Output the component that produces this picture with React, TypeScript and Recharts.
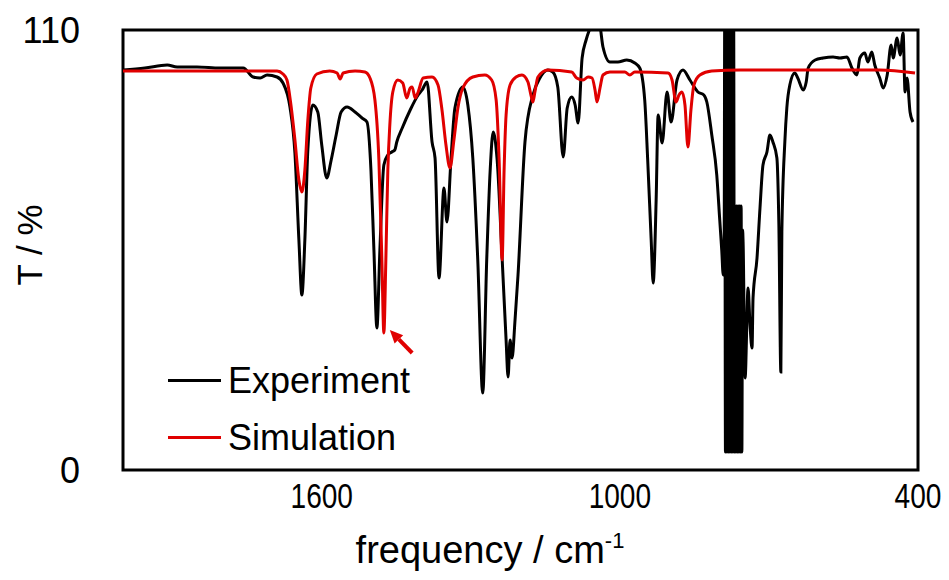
import React from "react";
import {
  LineChart,
  Line,
  XAxis,
  YAxis,
  ReferenceArea,
  ReferenceLine,
} from "recharts";

// Experiment (black) — frequency / cm-1 and transmittance %
const expFreq = [
  2000, 1956, 1911, 1891, 1851, 1805, 1758, 1738, 1724, 1710, 1690, 1678, 1664, 1654, 1646, 1640,
  1634, 1628, 1618, 1608, 1600, 1590, 1581, 1571, 1561, 1549, 1533, 1519, 1509, 1501, 1495, 1489,
  1483, 1475, 1467, 1459, 1453, 1449, 1438, 1422, 1406, 1398, 1388, 1378, 1372, 1364, 1354, 1348,
  1340, 1332, 1316, 1306, 1296, 1286, 1276, 1268, 1261, 1255, 1247, 1237, 1229, 1225, 1221, 1217,
  1211, 1205, 1191, 1175, 1161, 1145, 1135, 1125, 1114, 1106, 1097, 1090, 1084, 1076, 1068, 1060,
  1050, 1040, 1034, 1020, 1004, 986, 970, 960, 950, 944, 937, 933, 927, 923, 915, 905, 897, 885,
  873, 859, 843, 831, 825, 815, 805, 799, 795, 792,
  // saturated region
  790, 789, 787.5, 786, 784.5, 783, 781.5, 780, 778.5, 777, 775.5, 774, 772.5, 771, 769.5, 768,
  766.5, 765, 763.5, 762, 760.5, 759, 757.5, 756, 754.5, 753,
  752, 748, 742, 738, 734, 732, 724, 718, 712, 704, 698, 692, 684, 680, 676, 674, 668, 664, 658,
  648, 642, 631, 625, 621, 607, 591, 571, 557, 543, 533, 523, 517, 507, 501, 493, 487, 477, 470,
  462, 454, 450, 442, 436, 430, 426, 422, 416, 410,
];
const expT = [
  100, 100.5, 101.25, 100.75, 100.75, 100.5, 100.5, 98.25, 98, 98.75, 98.25, 96.75, 90.75, 79.25, 57.5, 43.75,
  57.5, 80, 91.25, 89.5, 81.25, 73, 77.5, 83.75, 89.5, 90.75, 89.5, 88, 87, 75, 55, 35.5,
  55, 76.25, 78.75, 79.5, 80, 82, 85.5, 90, 93.75, 95, 97, 82, 78, 48, 70.5, 62,
  77.5, 90.5, 95.75, 91.25, 78, 52.5, 19.25, 52.5, 75, 84.5, 77.5, 53, 32.5, 23.25, 32.5, 28,
  37.5, 48.75, 82, 93.75, 98, 100, 99.5, 95.75, 78.25, 90.5, 93.25, 91.25, 86.75, 103, 107.5, 110.5,
  113.75, 111, 105.75, 102, 102, 102.5, 101.75, 100.5, 92.5, 77.5, 57.5, 46.75, 67.5, 88.75, 81.75, 94.5, 87, 97.5,
  100, 97.5, 94.5, 93.75, 92, 83.75, 73.75, 62.5, 55, 48.75,
  60, 114, 4.5, 114, 4.5, 114, 4.5, 114, 4.5, 114, 4.5, 114, 4.5, 114, 4.5, 66,
  4.5, 66, 4.5, 66, 4.5, 66, 4.5, 66, 4.5, 60,
  57, 23, 45.5, 36, 30.5, 43, 53, 65.5, 76.25, 79.5, 83.75, 82, 78, 61.25, 24.5, 59.5, 82, 90.5, 96.25,
  99.25, 98, 95, 97, 100.5, 102.5, 103, 103.25, 103, 103.25, 100.5, 98.75, 103, 104.25, 102, 104.5, 101.25, 98, 95.5,
  98.75, 106.25, 103, 108, 103.75, 109.25, 94.5, 98, 89.5, 87,
];

// Simulation (red)
const simFreq = [
  2000, 1690, 1678, 1670, 1662, 1654, 1646, 1640, 1634, 1628, 1622, 1610, 1584, 1569, 1563, 1557,
  1533, 1513, 1503, 1493, 1485, 1479, 1475, 1471, 1467, 1463, 1457, 1447, 1437, 1429, 1422, 1418,
  1412, 1406, 1396, 1378, 1366, 1358, 1350, 1342, 1334, 1326, 1316, 1296, 1272, 1258, 1249, 1243,
  1237, 1233, 1229, 1221, 1209, 1197, 1185, 1179, 1175, 1171, 1165, 1145, 1097, 1087, 1074, 1064,
  1056, 1050, 1046, 1040, 1034, 1020, 990, 980, 970, 903, 895, 887, 881, 875, 869, 863, 857, 851,
  839, 815, 758, 638, 477, 406,
];
const simT = [
  99.75, 99.75, 99, 97.5, 91.25, 82.5, 72.5, 69.5, 75, 87.5, 95.5, 99, 99.75, 99.25, 97.75, 99.25,
  99.75, 99.5, 98, 92.5, 77.5, 52.5, 34.25, 52.5, 75, 86.25, 94.5, 97.5, 96.75, 93, 95.5, 95.75,
  93, 94.5, 98, 98.25, 96.25, 90, 81.25, 75.5, 82.5, 90.5, 95.5, 98.25, 98.75, 97.5, 92.5, 77.5,
  52.5, 75, 88.75, 96.25, 98.25, 98.75, 97, 93.75, 92, 94.5, 98.25, 100, 99.5, 98, 97.5, 98.25,
  98, 95, 92, 95.5, 98.75, 99.5, 99.5, 98.75, 99.5, 99.25, 97.5, 92, 93.75, 94.5, 91.25, 80.75, 90, 96.25,
  98.75, 99.75, 100, 100, 100, 99.25,
];

const xTicks = [1600, 1000, 400];
const yTicks = [0, 110];
const seriesNames = ["Experiment", "Simulation"];
const seriesColors = ["#000000", "#e00000"];

// annotation arrow pointing at the simulated band (tail -> tip)
const arrowTail = { f: 1418, t: 29.25 };
const arrowTip = { f: 1463, t: 35 };

const expData = expFreq.map((f, i) => ({ f, t: expT[i] }));
const simData = simFreq.map((f, i) => ({ f, t: simT[i] }));

const FONT = "'Liberation Sans', Arial, sans-serif";

// x tick labels in the original are set in a condensed face
function XTick({ x, y, payload }: any) {
  return (
    <text
      x={x}
      y={y + 30}
      textAnchor="middle"
      fontSize={36}
      fontFamily={FONT}
      fill="#000"
      transform={`translate(${x} 0) scale(0.78 1) translate(${-x} 0)`}
    >
      {payload.value}
    </text>
  );
}

function YTick({ y, payload }: any) {
  return (
    <text x={80} y={y + 13} textAnchor="end" fontSize={36} fontFamily={FONT} fill="#000">
      {payload.value}
    </text>
  );
}

function Arrow(props: any) {
  const { x1, y1, x2, y2 } = props;
  const ang = Math.atan2(y2 - y1, x2 - x1);
  const len = 13;
  const w = 6;
  const bx = x2 - len * Math.cos(ang);
  const by = y2 - len * Math.sin(ang);
  const px = -Math.sin(ang) * w;
  const py = Math.cos(ang) * w;
  return (
    <g>
      <line x1={x1} y1={y1} x2={bx} y2={by} stroke="#e00000" strokeWidth={4} />
      <polygon points={`${x2},${y2} ${bx + px},${by + py} ${bx - px},${by - py}`} fill="#e00000" />
    </g>
  );
}

function LegendBox() {
  return (
    <div style={{ position: "absolute", left: 168, top: 352 }}>
      {seriesNames.map((name, i) => (
        <div key={name} style={{ display: "flex", alignItems: "center", height: 57 }}>
          <div style={{ width: 53, height: 3, background: seriesColors[i], marginRight: 7 }} />
          <span style={{ fontSize: 36, fontFamily: FONT, color: "#000", lineHeight: "57px" }}>{name}</span>
        </div>
      ))}
    </div>
  );
}

export default function App() {
  return (
    <div style={{ position: "absolute", left: 0, top: 0, width: 949, height: 580, background: "#fff" }}>
      <LineChart width={949} height={580} margin={{ top: 30, right: 31, bottom: 0, left: 0 }}>
        <XAxis
          type="number"
          dataKey="f"
          domain={[400, 2000]}
          reversed
          allowDataOverflow
          ticks={xTicks}
          tick={<XTick />}
          tickLine={false}
          axisLine={false}
          height={110}
          label={{
            content: () => (
              <text x={490} y={563} textAnchor="middle" fontSize={38} fontFamily={FONT} fill="#000">
                frequency / cm
                <tspan fontSize={22} dy={-15}>-1</tspan>
              </text>
            ),
          }}
        />
        <YAxis
          type="number"
          dataKey="t"
          domain={[0, 110]}
          allowDataOverflow
          ticks={yTicks}
          tick={<YTick />}
          tickLine={false}
          axisLine={false}
          width={123}
          label={{
            content: () => (
              <text
                x={42}
                y={245}
                transform="rotate(-90 42 245)"
                textAnchor="middle"
                fontSize={35}
                fontFamily={FONT}
                fill="#000"
              >
                T / %
              </text>
            ),
          }}
        />
        <Line
          data={expData}
          dataKey="t"
          type="monotone"
          stroke={seriesColors[0]}
          strokeWidth={3}
          dot={false}
          isAnimationActive={false}
          name={seriesNames[0]}
        />
        <Line
          data={simData}
          dataKey="t"
          type="monotone"
          stroke={seriesColors[1]}
          strokeWidth={3}
          dot={false}
          isAnimationActive={false}
          name={seriesNames[1]}
        />
        <ReferenceArea x1={2000} x2={400} y1={0} y2={110} fill="none" stroke="#000" strokeWidth={3} ifOverflow="visible" />
        <ReferenceLine
          segment={[
            { x: arrowTail.f, y: arrowTail.t },
            { x: arrowTip.f, y: arrowTip.t },
          ]}
          ifOverflow="visible"
          shape={<Arrow />}
        />
      </LineChart>
      <LegendBox />
    </div>
  );
}
